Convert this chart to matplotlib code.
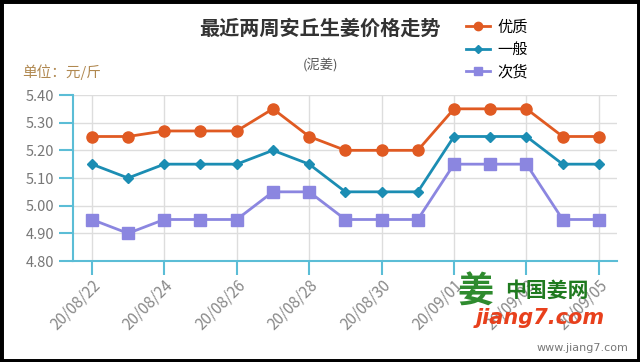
import matplotlib.pyplot as plt
from matplotlib.patches import Rectangle

plt.rcParams['font.family'] = ['Noto Sans CJK SC', 'DejaVu Sans']

dates = ['20/08/22', '20/08/23', '20/08/24', '20/08/25', '20/08/26', '20/08/27',
         '20/08/28', '20/08/29', '20/08/30', '20/08/31', '20/09/01', '20/09/02',
         '20/09/03', '20/09/04', '20/09/05']
youzhi = [5.25, 5.25, 5.27, 5.27, 5.27, 5.35, 5.25, 5.20, 5.20, 5.20, 5.35, 5.35, 5.35, 5.25, 5.25]
yiban = [5.15, 5.10, 5.15, 5.15, 5.15, 5.20, 5.15, 5.05, 5.05, 5.05, 5.25, 5.25, 5.25, 5.15, 5.15]
cihuo = [4.95, 4.90, 4.95, 4.95, 4.95, 5.05, 5.05, 4.95, 4.95, 4.95, 5.15, 5.15, 5.15, 4.95, 4.95]
y_ticks = [4.80, 4.90, 5.00, 5.10, 5.20, 5.30, 5.40]

fig = plt.figure(figsize=(6.4, 3.62), dpi=100)
ax = fig.add_axes([73 / 640, 1 - 261 / 362, (617 - 73) / 640, (261 - 95) / 362])

x = list(range(len(dates)))
ax.plot(x, youzhi, color='#e05a22', lw=2, marker='o', ms=8, label='优质')
ax.plot(x, yiban, color='#1b8db3', lw=2, marker='D', ms=5.5, label='一般')
ax.plot(x, cihuo, color='#8b86e0', lw=2, marker='s', ms=8, label='次货')

ax.set_xlim(-0.52, 14.5)
ax.set_ylim(4.80, 5.40)
ax.set_yticks(y_ticks)
ax.set_yticklabels([f'{v:.2f}' for v in y_ticks])
ax.set_xticks(x[::2])
ax.set_xticklabels(dates[::2], rotation=45, ha='right', rotation_mode='anchor')

axis_col = '#5bbdd6'
for s in ['top', 'right']:
    ax.spines[s].set_visible(False)
ax.spines['left'].set_color(axis_col)
ax.spines['bottom'].set_color(axis_col)
ax.spines['left'].set_linewidth(1.5)
ax.spines['bottom'].set_linewidth(1.5)
ax.tick_params(axis='both', colors=axis_col, width=1.5, length=10, labelcolor='#777777', labelsize=10.5)
ax.tick_params(axis='x', pad=1, labelsize=11, labelcolor='#888888')
ax.grid(True, color='#dddddd', lw=1)
ax.set_axisbelow(True)

fig.text(320 / 640, 1 - 28 / 362, '最近两周安丘生姜价格走势', ha='center', va='center',
         fontsize=14.5, fontweight='bold', color='#333333')
fig.text(320 / 640, 1 - 66 / 362, '(泥姜)', ha='center', va='center', fontsize=9.5, color='#555555')
fig.text(22 / 640, 1 - 72 / 362, '单位：元/斤', ha='left', va='center', fontsize=10.5, color='#b08850')

leg = fig.legend(loc='upper left', bbox_to_anchor=(452 / 640, 1 - 5 / 362), frameon=False,
                 fontsize=11, handlelength=1.6, labelspacing=0.35, handletextpad=0.5, markerscale=0.75)

# watermark
fig.text(475 / 640, 1 - 292 / 362, '姜', ha='center', va='center', fontsize=26, fontweight='bold', color='#2e8b2e')
fig.text(547 / 640, 1 - 290 / 362, '中国姜网', ha='center', va='center', fontsize=15, fontweight='bold', color='#1f7a1f')
fig.text(540 / 640, 1 - 318 / 362, 'jiang7.com', ha='center', va='center', fontsize=15, fontweight='bold',
         fontstyle='italic', color='#e8401c', family='DejaVu Sans')
fig.text(628 / 640, 1 - 348 / 362, 'www.jiang7.com', ha='right', va='center', fontsize=8, color='#777777',
         family='DejaVu Sans')

fig.patches.append(Rectangle((0, 0), 1, 1, transform=fig.transFigure, fill=False, ec='black', lw=5))

fig.savefig('out.png', dpi=100)
